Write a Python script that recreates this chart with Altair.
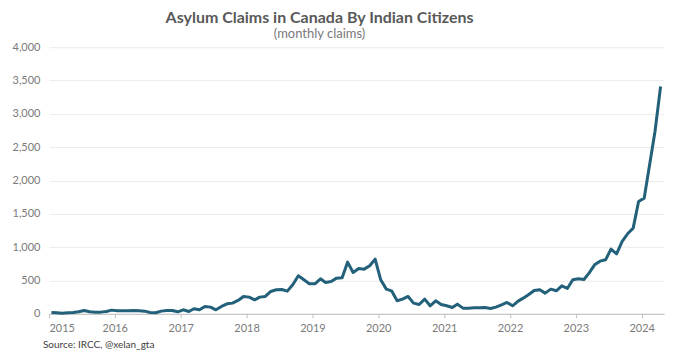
import altair as alt
import pandas as pd

FONT = "Lato"
TITLE = "Asylum Claims in Canada By Indian Citizens"
SUBTITLE = "(monthly claims)"
SOURCE = ["Source: IRCC, @xelan_gta"]
YEAR_TICKS = list(range(2015, 2025))
Y_TICKS = [0, 500, 1000, 1500, 2000, 2500, 3000, 3500, 4000]

# monthly claims, Jan 2015 .. Apr 2024
claims_2015 = [20, 15, 10, 15, 20, 30, 50, 30, 25, 25, 35, 55]
claims_2016 = [45, 45, 45, 50, 45, 40, 20, 15, 40, 50, 50, 30]
claims_2017 = [60, 35, 75, 60, 110, 100, 60, 110, 150, 160, 200, 260]
claims_2018 = [250, 210, 250, 260, 335, 360, 365, 340, 440, 570, 510, 450]
claims_2019 = [450, 525, 470, 485, 535, 540, 775, 620, 680, 670, 720, 820]
claims_2020 = [510, 370, 345, 195, 220, 260, 160, 140, 220, 120, 195, 140]
claims_2021 = [120, 95, 145, 85, 85, 90, 90, 95, 80, 100, 135, 170]
claims_2022 = [120, 190, 235, 290, 350, 360, 310, 370, 345, 420, 380, 510]
claims_2023 = [525, 515, 610, 735, 790, 810, 970, 900, 1085, 1200, 1285, 1685]
claims_2024 = [1735, 2250, 2735, 3410]

values = (claims_2015 + claims_2016 + claims_2017 + claims_2018 + claims_2019
          + claims_2020 + claims_2021 + claims_2022 + claims_2023 + claims_2024)
dates = [f"{2015 + i // 12}-{i % 12 + 1:02d}-15" for i in range(len(values))]
df = pd.DataFrame({"date": dates, "claims": values})

x_scale = alt.Scale(
    type="utc",
    domain=[alt.DateTime(year=2015, month=1, date=1, utc=True),
            alt.DateTime(year=2024, month=5, date=4, utc=True)],
)

line = alt.Chart(df).mark_line(
    color="#23607a", strokeWidth=3, strokeJoin="round"
).encode(
    x=alt.X("date:T", scale=x_scale, axis=alt.Axis(
        title=None,
        values=[alt.DateTime(year=y, month=1, date=1, utc=True) for y in YEAR_TICKS],
        format="%Y", grid=False, domainColor="#bfbfbf", tickColor="#bfbfbf",
        tickSize=4, labelColor="#7a7a7a", labelFontSize=11, labelFont=FONT,
        labelPadding=5,
    )),
    y=alt.Y("claims:Q", scale=alt.Scale(domain=[0, 4000]), axis=alt.Axis(
        title=None, values=Y_TICKS, format=",.0f", domain=False, ticks=False,
        gridColor="#ececec", labelColor="#7a7a7a", labelFontSize=11,
        labelFont=FONT, labelPadding=9,
    )),
)

src = alt.Chart(pd.DataFrame({"t": SOURCE})).mark_text(
    align="left", baseline="alphabetic", fontSize=10, color="#404040", font=FONT
).encode(text="t:N", x=alt.value(-6), y=alt.value(301))

chart = alt.layer(line, src).properties(
    width=616, height=267,
    autosize="none",
    padding={"left": 41, "top": 39, "right": 8, "bottom": 37},
    title=alt.TitleParams(
        text=TITLE, subtitle=SUBTITLE, anchor="middle", fontSize=16, font=FONT,
        fontWeight="bold", color="#595959", subtitleFontSize=13,
        subtitleColor="#7a7a7a", subtitleFont=FONT, dx=-37, offset=0,
        subtitlePadding=2,
    ),
).configure_view(stroke=None)

chart.save("out.html", embed_options={"renderer": "svg", "actions": False})
